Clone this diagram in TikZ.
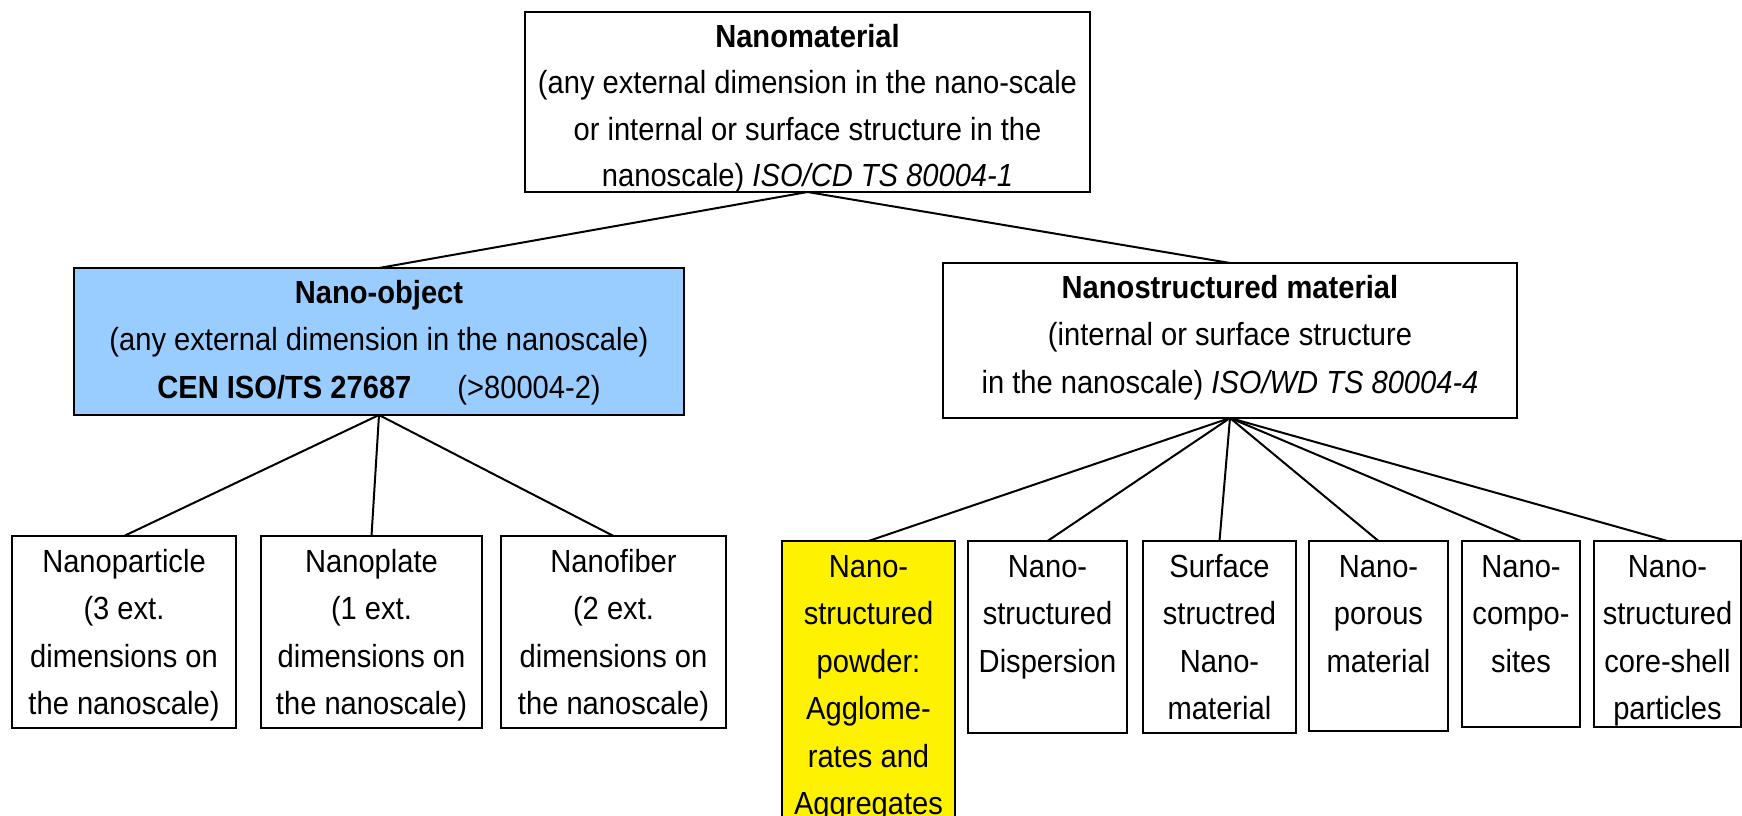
\documentclass[tikz,border=0pt]{standalone}
\usepackage{fontspec}
\setmainfont[FakeStretch=0.91]{Liberation Sans}
\definecolor{objblue}{RGB}{153,204,255}
\newcommand{\fl}{\rule{0pt}{25pt}}
\tikzset{
  box/.style={draw, line width=2.2pt, inner sep=0pt, outer sep=0pt, anchor=north west, fill=white},
  txt/.style={anchor=north, inner sep=0pt, align=center, font=\fontsize{32}{47.5}\selectfont},
  txttop/.style={txt, font=\fontsize{32}{46.5}\selectfont},
  link/.style={line width=2pt},
}
\newcommand{\boxat}[6][white]{%
  \node[box, fill=#1, minimum width=#5pt-#3pt, minimum height=#6pt-#4pt] (#2) at (#3,#4) {};}
\begin{document}
\begin{tikzpicture}[x=1pt,y=-1pt]
\useasboundingbox (0,0) rectangle (1742,815);
% boxes
\boxat{top}{525}{12}{1090}{192}
\boxat[objblue]{obj}{74}{268}{684}{415}
\boxat{str}{943}{263}{1517}{418}
\boxat{part}{12}{536}{236}{728}
\boxat{plate}{261}{536}{482}{728}
\boxat{fiber}{501}{536}{726}{728}
\boxat[yellow]{powder}{782}{541}{955}{835}
\boxat{disp}{968}{541}{1127}{733}
\boxat{surf}{1143}{541}{1296}{733}
\boxat{por}{1309}{541}{1448}{731}
\boxat{comp}{1462}{541}{1580}{727}
\boxat{core}{1594}{541}{1741}{727}
% texts
\node[txttop] (top-t) at ([yshift=-10pt]top.north) {\fl\textbf{Nanomaterial}\\(any external dimension in the nano-scale\\or internal or surface structure in the\\nanoscale) \textit{ISO/CD TS 80004-1}};
\node[txt] (obj-t) at ([yshift=-10pt]obj.north) {\fl\textbf{Nano-object}\\(any external dimension in the nanoscale)\\\textbf{CEN ISO/TS 27687}\hspace{46pt}(>80004-2)};
\node[txt] (str-t) at ([yshift=-10pt]str.north) {\fl\textbf{Nanostructured material}\\(internal or surface structure\\in the nanoscale) \textit{ISO/WD TS 80004-4}};
\node[txt] (part-t) at ([yshift=-11pt]part.north) {\fl Nanoparticle\\(3 ext.\\dimensions on\\the nanoscale)};
\node[txt] (plate-t) at ([yshift=-11pt]plate.north) {\fl Nanoplate\\(1 ext.\\dimensions on\\the nanoscale)};
\node[txt] (fiber-t) at ([yshift=-11pt]fiber.north) {\fl Nanofiber\\(2 ext.\\dimensions on\\the nanoscale)};
\node[txt] (powder-t) at ([yshift=-11pt]powder.north) {\fl Nano-\\structured\\powder:\\Agglome-\\rates and\\Aggregates};
\node[txt] (disp-t) at ([yshift=-11pt]disp.north) {\fl Nano-\\structured\\Dispersion};
\node[txt] (surf-t) at ([yshift=-11pt]surf.north) {\fl Surface\\structred\\Nano-\\material};
\node[txt] (por-t) at ([yshift=-11pt]por.north) {\fl Nano-\\porous\\material};
\node[txt] (comp-t) at ([yshift=-11pt]comp.north) {\fl Nano-\\compo-\\sites};
\node[txt] (core-t) at ([yshift=-11pt]core.north) {\fl Nano-\\structured\\core-shell\\particles};
% connectors
\draw[link] (top.south) -- (obj.north);
\draw[link] (top.south) -- (str.north);
\foreach \c in {part,plate,fiber} \draw[link] (obj.south) -- (\c.north);
\foreach \c in {powder,disp,surf,por,comp,core} \draw[link] (str.south) -- (\c.north);
\end{tikzpicture}
\end{document}
